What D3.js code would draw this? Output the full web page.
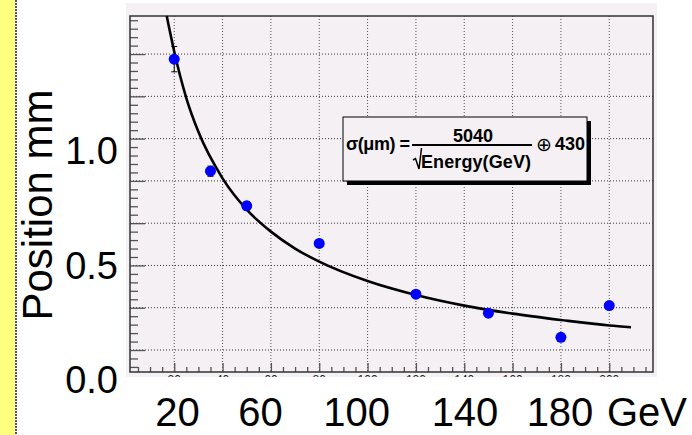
<!DOCTYPE html>
<html>
<head>
<meta charset="utf-8">
<style>
  body { margin: 0; background: #fff; }
  svg { display: block; font-family: 'Liberation Sans', Arial, sans-serif; }
</style>
</head>
<body>
<div id="chart"></div>
<script src="https://cdn.jsdelivr.net/npm/d3@7/dist/d3.min.js"></script>
<script>
// beam energy (GeV) and measured position resolution (mm)
var energies = [20, 35, 50, 80, 120, 150, 180, 200];
var sigmas = [1.188, 0.923, 0.841, 0.752, 0.632, 0.587, 0.530, 0.605];
var sigmaErr = [0.03, 0.012, 0.01, 0.008, 0.006, 0.005, 0.005, 0.005];

// fitted curve
var fitE = [16.9, 20, 25, 30, 40, 50, 60, 70, 80, 100, 120, 140, 160, 180, 200, 209];
var fitSigma = [1.29, 1.206, 1.096, 1.016, 0.906, 0.832, 0.780, 0.740, 0.709, 0.663, 0.630, 0.605, 0.586, 0.571, 0.558, 0.554];

var xTicks = [20, 40, 60, 80, 100, 120, 140, 160, 180, 200];
var yTicks = [0.5, 0.6, 0.7, 0.8, 0.9, 1.0, 1.1, 1.2];

// big slide labels laid over the plot
var slideXLabels = ['20', '60', '100', '140', '180', 'GeV'];
var slideYLabels = ['1.0', '0.5', '0.0'];

var width = 692, height = 435;
var pad = { x0: 126, y0: 3, x1: 657, y1: 377 };
var frame = { x0: 130, y0: 16, x1: 653, y1: 372 };
var padColor = '#f4f0f4';

var svg = d3.select('#chart').append('svg')
  .attr('width', width)
  .attr('height', height);

// yellow strip on the slide's left edge
svg.append('rect')
  .attr('x', 0).attr('y', 0)
  .attr('width', 15).attr('height', height)
  .attr('fill', '#ffff80');
svg.append('line')
  .attr('x1', 16).attr('x2', 16)
  .attr('y1', 0).attr('y2', height)
  .attr('stroke', '#555')
  .attr('stroke-width', 2)
  .attr('stroke-dasharray', '2,1');

svg.append('clipPath').attr('id', 'padclip')
  .append('rect')
  .attr('x', pad.x0).attr('y', pad.y0)
  .attr('width', pad.x1 - pad.x0).attr('height', pad.y1 - pad.y0);

var p = svg.append('g').attr('clip-path', 'url(#padclip)');

p.append('rect')
  .attr('x', pad.x0).attr('y', pad.y0)
  .attr('width', pad.x1 - pad.x0).attr('height', pad.y1 - pad.y0)
  .attr('fill', padColor);

var x = d3.scaleLinear().domain([1.7, 218.1]).range([frame.x0, frame.x1]);
var y = d3.scaleLinear().domain([0.448, 1.29]).range([frame.y1, frame.y0]);

// dotted grid
p.append('g').selectAll('line')
  .data(xTicks)
  .enter().append('line')
  .attr('x1', function(d) { return x(d); })
  .attr('x2', function(d) { return x(d); })
  .attr('y1', frame.y0).attr('y2', frame.y1)
  .attr('stroke', '#555')
  .attr('stroke-dasharray', '1,2');

p.append('g').selectAll('line')
  .data(yTicks)
  .enter().append('line')
  .attr('x1', frame.x0).attr('x2', frame.x1)
  .attr('y1', function(d) { return y(d); })
  .attr('y2', function(d) { return y(d); })
  .attr('stroke', '#333')
  .attr('stroke-dasharray', '1,2');

// ROOT style ticks inside the frame
var xAxis = d3.axisTop(x)
  .tickValues(d3.range(5, 218, 5))
  .tickSize(5)
  .tickFormat('');
var gx = p.append('g')
  .attr('transform', 'translate(0,' + frame.y1 + ')')
  .call(xAxis);
gx.selectAll('.tick line')
  .attr('y2', function(d) { return d % 20 === 0 ? -9 : -5; });

var yAxis = d3.axisRight(y)
  .tickValues(d3.range(0.46, 1.29, 0.02))
  .tickSize(8)
  .tickFormat('');
var gy = p.append('g')
  .attr('transform', 'translate(' + frame.x0 + ',0)')
  .call(yAxis);
gy.selectAll('.tick line')
  .attr('x2', function(d) { return Math.abs(Math.round(d * 100) % 10) === 0 ? 15 : 8; });

[gx, gy].forEach(function(g) {
  g.select('.domain').remove();
  g.selectAll('.tick line').attr('stroke', '#555').attr('stroke-width', 1.3);
});

// the tiny ROOT labels, mostly cut off by the pad edge
p.append('g').selectAll('text')
  .data(xTicks)
  .enter().append('text')
  .attr('x', function(d) { return x(d); })
  .attr('y', frame.y1 + 12)
  .attr('text-anchor', 'middle')
  .attr('font-size', 12)
  .attr('fill', '#222')
  .text(function(d) { return d; });

p.append('rect')
  .attr('x', frame.x0).attr('y', frame.y0)
  .attr('width', frame.x1 - frame.x0).attr('height', frame.y1 - frame.y0)
  .attr('fill', 'none')
  .attr('stroke', '#333')
  .attr('stroke-width', 1.5);

// fit curve
var line = d3.line()
  .x(function(d) { return x(d[0]); })
  .y(function(d) { return y(d[1]); })
  .curve(d3.curveMonotoneX);

p.append('path')
  .datum(d3.zip(fitE, fitSigma))
  .attr('d', line)
  .attr('fill', 'none')
  .attr('stroke', '#000')
  .attr('stroke-width', 2.6);

// points with error bars
var pts = d3.zip(energies, sigmas, sigmaErr);
var eb = p.append('g').selectAll('g')
  .data(pts)
  .enter().append('g')
  .attr('stroke', '#000')
  .attr('stroke-width', 1);
eb.append('line')
  .attr('x1', function(d) { return x(d[0]); })
  .attr('x2', function(d) { return x(d[0]); })
  .attr('y1', function(d) { return y(d[1] - d[2]); })
  .attr('y2', function(d) { return y(d[1] + d[2]); });
eb.append('line')
  .attr('x1', function(d) { return x(d[0]) - 3; })
  .attr('x2', function(d) { return x(d[0]) + 3; })
  .attr('y1', function(d) { return y(d[1] - d[2]); })
  .attr('y2', function(d) { return y(d[1] - d[2]); });
eb.append('line')
  .attr('x1', function(d) { return x(d[0]) - 3; })
  .attr('x2', function(d) { return x(d[0]) + 3; })
  .attr('y1', function(d) { return y(d[1] + d[2]); })
  .attr('y2', function(d) { return y(d[1] + d[2]); });

p.append('g').selectAll('circle')
  .data(pts)
  .enter().append('circle')
  .attr('cx', function(d) { return x(d[0]); })
  .attr('cy', function(d) { return y(d[1]); })
  .attr('r', 5.5)
  .attr('fill', '#0000ff');

// fit formula box
var box = { x: 343, y: 117, w: 244, h: 64 };
p.append('rect')
  .attr('x', box.x + 4).attr('y', box.y + 4)
  .attr('width', box.w).attr('height', box.h)
  .attr('fill', '#000');
p.append('rect')
  .attr('x', box.x).attr('y', box.y)
  .attr('width', box.w).attr('height', box.h)
  .attr('fill', padColor)
  .attr('stroke', '#000')
  .attr('stroke-width', 1);

var f = p.append('g')
  .attr('font-weight', 'bold')
  .attr('font-size', 18)
  .attr('fill', '#000');
f.append('text')
  .attr('x', 410).attr('y', 150)
  .attr('text-anchor', 'end')
  .attr('textLength', 64)
  .text('\u03c3(\u03bcm) =');
f.append('text')
  .attr('x', 473).attr('y', 142)
  .attr('text-anchor', 'middle')
  .text('5040');
f.append('line')
  .attr('x1', 412).attr('x2', 532)
  .attr('y1', 145).attr('y2', 145)
  .attr('stroke', '#000')
  .attr('stroke-width', 2);
f.append('path')
  .attr('d', 'M413,160 L415.5,158.5 L419,169 L421.5,148')
  .attr('fill', 'none')
  .attr('stroke', '#000')
  .attr('stroke-width', 1.5);
f.append('text')
  .attr('x', 421).attr('y', 168)
  .attr('textLength', 110)
  .text('Energy(GeV)');
f.append('text')
  .attr('x', 536).attr('y', 151)
  .attr('font-family', 'DejaVu Sans')
  .attr('font-weight', 'normal')
  .attr('font-size', 19)
  .text('\u2295');
f.append('text')
  .attr('x', 555).attr('y', 150)
  .text('430');

// slide overlay text
var big = svg.append('g')
  .attr('fill', '#000')
  .attr('font-size', 40);

var slideXPos = [177.5, 260.5, 356.7, 465, 560, 647];
big.selectAll('text.xl')
  .data(slideXLabels)
  .enter().append('text')
  .attr('class', 'xl')
  .attr('x', function(d, i) { return slideXPos[i]; })
  .attr('y', 426)
  .attr('text-anchor', 'middle')
  .text(function(d) { return d; });

var slideY = d3.scaleLinear().domain([0, 1]).range([393, 164]);
big.selectAll('text.yl')
  .data(slideYLabels)
  .enter().append('text')
  .attr('class', 'yl')
  .attr('x', 118)
  .attr('y', function(d) { return slideY(+d); })
  .attr('text-anchor', 'end')
  .attr('font-size', 38)
  .text(function(d) { return d; });

big.append('text')
  .attr('transform', 'translate(52,205) rotate(-90)')
  .attr('text-anchor', 'middle')
  .attr('font-size', 42)
  .text('Position mm');
</script>
</body>
</html>
